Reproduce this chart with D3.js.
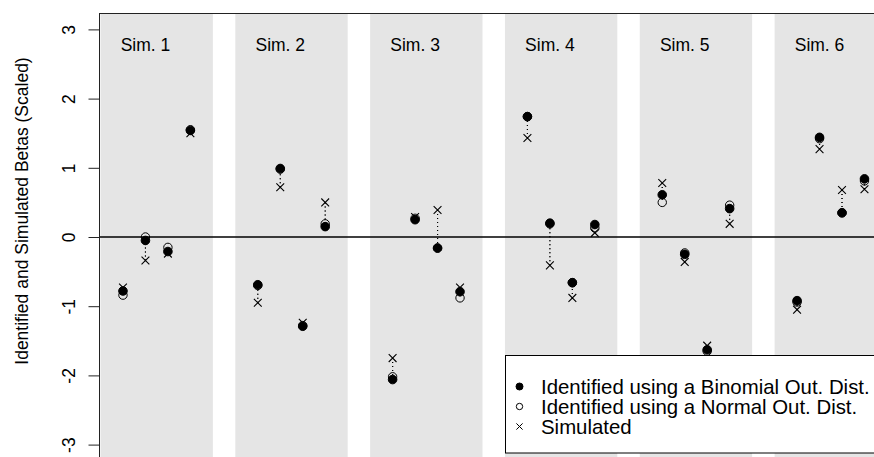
<!DOCTYPE html>
<html>
<head>
<meta charset="utf-8">
<script src="https://cdn.jsdelivr.net/npm/d3@7"></script>
<style>
  html, body { margin: 0; padding: 0; background: #fff; }
  svg { display: block; font-family: "Liberation Sans", Arial, Helvetica, sans-serif; }
</style>
</head>
<body>
<svg id="chart" width="874" height="457"></svg>
<script>
// ---- data ----
const sims = ["Sim. 1", "Sim. 2", "Sim. 3", "Sim. 4", "Sim. 5", "Sim. 6"];
const binomial = [
  [-0.78, -0.05, -0.21, 1.54],
  [-0.69, 0.99, -1.29, 0.15],
  [-2.06, 0.25, -0.16, -0.79],
  [1.74, 0.20, -0.66, 0.18],
  [0.61, -0.25, -1.63, 0.41],
  [-0.92, 1.44, 0.35, 0.84]
];
const normal = [
  [-0.84, 0.00, -0.15, 1.55],
  [-0.70, 0.98, -1.28, 0.19],
  [-2.02, 0.27, -0.16, -0.88],
  [1.74, 0.19, -0.66, 0.13],
  [0.50, -0.23, -1.65, 0.46],
  [-0.94, 1.42, 0.35, 0.81]
];
const simulated = [
  [-0.73, -0.34, -0.24, 1.50],
  [-0.95, 0.72, -1.24, 0.50],
  [-1.75, 0.29, 0.39, -0.73],
  [1.43, -0.41, -0.88, 0.06],
  [0.78, -0.36, -1.57, 0.19],
  [-1.05, 1.27, 0.68, 0.69]
];
const yTicks = [-3, -2, -1, 0, 1, 2, 3];
const yTickLabels = ["-3", "-2", "-1", "0", "1", "2", "3"];
const legendLabels = [
  "Identified using a Binomial Out. Dist.",
  "Identified using a Normal Out. Dist.",
  "Simulated"
];
const yTitle = "Identified and Simulated Betas (Scaled)";

// ---- scales ----
const W = 874, H = 457;
const x = d3.scaleLinear().domain([0, 35]).range([100.5, 100.5 + 35 * 22.47]);
const y = d3.scaleLinear().domain([-3, 3]).range([444.6, 29.4]);
const plotLeft = 99.5, plotTop = 13.5;

const svg = d3.select("#chart");

// flatten points
const pts = [];
sims.forEach((s, i) => {
  for (let j = 0; j < 4; j++) {
    pts.push({ xi: 6 * i + j + 1, b: binomial[i][j], n: normal[i][j], s: simulated[i][j] });
  }
});

// panels
svg.append("g").selectAll("rect").data(sims).join("rect")
  .attr("x", (d, i) => x(6 * i))
  .attr("width", (d, i) => x(6 * i + 5) - x(6 * i))
  .attr("y", plotTop)
  .attr("height", H - plotTop + 10)
  .attr("fill", "#e5e5e5");

// zero line
svg.append("line")
  .attr("x1", plotLeft).attr("x2", W + 5)
  .attr("y1", y(0)).attr("y2", y(0))
  .attr("stroke", "#000").attr("stroke-width", 1.5);

// box
svg.append("rect")
  .attr("x", plotLeft).attr("y", plotTop)
  .attr("width", W + 50).attr("height", H + 50)
  .attr("fill", "none").attr("stroke", "#222").attr("stroke-width", 1);

// y axis
const yAxis = d3.axisLeft(y).tickValues(yTicks).tickSize(11).tickPadding(0)
  .tickFormat((d, i) => yTickLabels[i]);
const gy = svg.append("g").attr("transform", `translate(${plotLeft},0)`).call(yAxis);
gy.select(".domain").remove();
gy.selectAll(".tick line").attr("stroke", "#222");
gy.selectAll(".tick text")
  .attr("x", 0).attr("dy", null)
  .attr("transform", "translate(-25,0) rotate(-90)")
  .attr("text-anchor", "middle")
  .attr("font-size", 17.5)
  .attr("font-family", '"Liberation Sans", Arial, sans-serif')
  .attr("fill", "#000")
  .attr("y", 0);

// y title
svg.append("text")
  .attr("transform", "translate(28,211) rotate(-90)")
  .attr("text-anchor", "middle")
  .attr("font-size", 17.5)
  .text(yTitle);

// sim labels
svg.append("g").selectAll("text").data(sims).join("text")
  .attr("x", (d, i) => x(6 * i + 2))
  .attr("y", 50.5)
  .attr("text-anchor", "middle")
  .attr("font-size", 17.5)
  .text(d => d);

// dotted segments
const seg = svg.append("g").attr("stroke", "#000").attr("stroke-width", 1.1)
  .attr("stroke-dasharray", "1,3");
seg.selectAll("line.b").data(pts).join("line").attr("class", "b")
  .attr("x1", d => x(d.xi)).attr("x2", d => x(d.xi))
  .attr("y1", d => y(d.s)).attr("y2", d => y(d.b));
seg.selectAll("line.n").data(pts).join("line").attr("class", "n")
  .attr("x1", d => x(d.xi)).attr("x2", d => x(d.xi))
  .attr("y1", d => y(d.s)).attr("y2", d => y(d.n));

// open circles
svg.append("g").selectAll("circle").data(pts).join("circle")
  .attr("cx", d => x(d.xi)).attr("cy", d => y(d.n)).attr("r", 4.2)
  .attr("fill", "none").attr("stroke", "#000").attr("stroke-width", 1);

// filled circles
svg.append("g").selectAll("circle").data(pts).join("circle")
  .attr("cx", d => x(d.xi)).attr("cy", d => y(d.b)).attr("r", 4.3)
  .attr("fill", "#000").attr("stroke", "#000").attr("stroke-width", 1);

// crosses
const cr = 3.9;
svg.append("g").selectAll("path").data(pts).join("path")
  .attr("d", d => {
    const cx = x(d.xi), cy = y(d.s);
    return `M${cx - cr},${cy - cr}L${cx + cr},${cy + cr}M${cx - cr},${cy + cr}L${cx + cr},${cy - cr}`;
  })
  .attr("stroke", "#000").attr("stroke-width", 1.1).attr("fill", "none");

// legend
const lg = svg.append("g");
lg.append("rect")
  .attr("x", 505.5).attr("y", 355.5).attr("width", 400).attr("height", 97.5)
  .attr("fill", "#fff").attr("stroke", "#000").attr("stroke-width", 1);
const ly = [386.5, 406.5, 426.5];
const lsx = 519.5;
lg.append("circle").attr("cx", lsx).attr("cy", ly[0]).attr("r", 3.5)
  .attr("fill", "#000").attr("stroke", "#000").attr("stroke-width", 1);
lg.append("circle").attr("cx", lsx).attr("cy", ly[1]).attr("r", 3.2)
  .attr("fill", "none").attr("stroke", "#000").attr("stroke-width", 1);
const lc = 3.1;
lg.append("path")
  .attr("d", `M${lsx - lc},${ly[2] - lc}L${lsx + lc},${ly[2] + lc}M${lsx - lc},${ly[2] + lc}L${lsx + lc},${ly[2] - lc}`)
  .attr("stroke", "#000").attr("stroke-width", 1);
lg.selectAll("text").data(legendLabels).join("text")
  .attr("x", 541).attr("y", (d, i) => ly[i])
  .attr("dy", "0.35em")
  .attr("font-size", 20.4)
  .text(d => d);
</script>
</body>
</html>
